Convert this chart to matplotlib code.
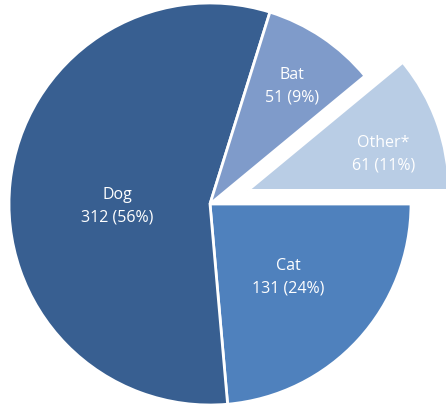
import numpy as np
import matplotlib
matplotlib.use("Agg")
import matplotlib.pyplot as plt

categories = ["Cat", "Dog", "Bat", "Other*"]
counts = [131, 312, 51, 61]
percent_labels = ["24%", "56%", "9%", "11%"]

colors = ["#4F81BD", "#385F91", "#7F9BCA", "#B9CDE5"]
explode = [0, 0, 0, 0.2]
label_dist = [0.53, 0.463, 0.72, 0.70]
label_angle_offset = [0.0, 6.8, -0.7, -4.5]

fig = plt.figure(figsize=(4.46, 4.06), dpi=100)
ax = fig.add_axes([0, 0, 1, 1])
wedges, _ = ax.pie(counts, colors=colors, explode=explode, startangle=0,
                   counterclock=False, radius=1.0,
                   wedgeprops=dict(edgecolor="white", linewidth=2))
for w, cat, n, p, d, off in zip(wedges, categories, counts, percent_labels,
                                label_dist, label_angle_offset):
    mid = np.deg2rad((w.theta1 + w.theta2) / 2 + off)
    cx, cy = w.center
    x = cx + d * np.cos(mid)
    y = cy + d * np.sin(mid)
    ax.text(x, y, f"{cat}\n{n} ({p})", ha="center", va="center", color="white",
            fontsize=11.5, family="Open Sans", linespacing=1.55)

r = 201.0
ax.set_aspect("auto")
ax.set_xlim(-210 / r, (446 - 210) / r)
ax.set_ylim(-201 / r, 205 / r)
ax.axis("off")
fig.savefig("out.png", dpi=100, facecolor="white")
